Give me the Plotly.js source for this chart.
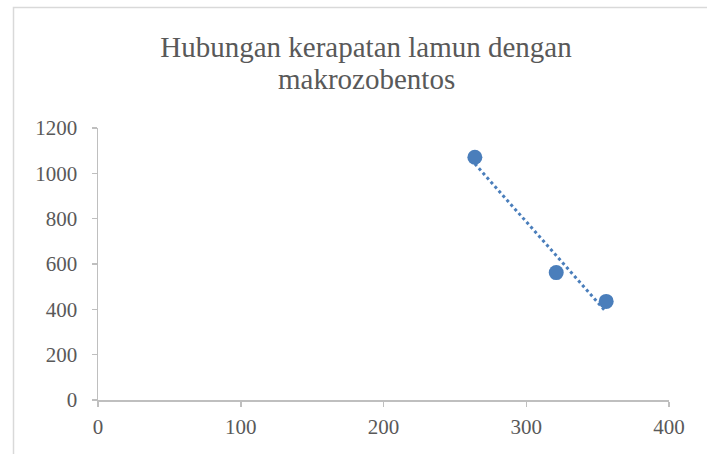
<!DOCTYPE html>
<html>
<head>
<meta charset="utf-8">
<script src="https://cdn.plot.ly/plotly-3.0.1.min.js"></script>
<style>
html,body{margin:0;padding:0;background:#fff;overflow:hidden;}
#chart{width:707px;height:454px;}
</style>
</head>
<body>
<div id="chart"></div>
<script>
// Data
const titleLine1 = "Hubungan kerapatan lamun dengan";
const titleLine2 = "makrozobentos";
const kerapatan = [264, 321, 356];       // x values
const makrozobentos = [1071, 562, 435];  // y values
const xTicks = [0, 100, 200, 300, 400];
const yTicks = [0, 200, 400, 600, 800, 1000, 1200];

// Linear trendline (least squares) from the data
const n = kerapatan.length;
const mx = kerapatan.reduce((a, b) => a + b, 0) / n;
const my = makrozobentos.reduce((a, b) => a + b, 0) / n;
let sxy = 0, sxx = 0;
for (let i = 0; i < n; i++) {
  sxy += (kerapatan[i] - mx) * (makrozobentos[i] - my);
  sxx += (kerapatan[i] - mx) ** 2;
}
const slope = sxy / sxx;
const intercept = my - slope * mx;
const tx = [Math.min(...kerapatan), Math.max(...kerapatan)];
const ty = tx.map(v => intercept + slope * v);

const blue = '#4a7ebb';
const textColor = '#595959';
const font = 'Liberation Serif, Times New Roman, serif';

const data = [
  {
    x: tx, y: ty, type: 'scatter', mode: 'lines',
    line: {color: blue, width: 3, dash: 'dot'},
    hoverinfo: 'skip', showlegend: false
  },
  {
    x: kerapatan, y: makrozobentos, type: 'scatter', mode: 'markers',
    marker: {color: blue, size: 15},
    showlegend: false
  }
];

const W = 707, H = 454;
const L = 98, R = 669, T = 128, B = 400;
const px2paperX = p => (p - L) / (R - L);
const px2paperY = p => (B - p) / (B - T);

const layout = {
  width: W, height: H,
  margin: {l: L, r: W - R, t: T, b: H - B, pad: 0},
  paper_bgcolor: '#ffffff',
  plot_bgcolor: '#ffffff',
  font: {family: font, color: textColor, size: 21},
  title: {
    text: titleLine1,
    font: {family: font, size: 29, color: textColor},
    x: 366 / W, xanchor: 'center', xref: 'container',
    y: 1 - 47 / H, yanchor: 'middle', yref: 'container'
  },
  annotations: [{
    text: titleLine2, showarrow: false,
    xref: 'paper', yref: 'paper',
    x: px2paperX(366), y: px2paperY(79),
    xanchor: 'center', yanchor: 'middle',
    font: {family: font, size: 29, color: textColor}
  }],
  xaxis: {
    range: [0, 400], tickvals: xTicks, ticktext: xTicks.map(String),
    showgrid: false, zeroline: false,
    showline: true, linecolor: '#bfbfbf', linewidth: 1.5,
    ticks: 'outside', ticklen: 5, tickcolor: '#bfbfbf', tickwidth: 1.5,
    ticklabelstandoff: 2,
    tickfont: {family: font, size: 21, color: textColor},
    fixedrange: true
  },
  yaxis: {
    range: [0, 1200], tickvals: yTicks, ticktext: yTicks.map(String),
    showgrid: false, zeroline: false,
    showline: true, linecolor: '#bfbfbf', linewidth: 1.5,
    ticks: 'outside', ticklen: 5, tickcolor: '#bfbfbf', tickwidth: 1.5,
    ticklabelstandoff: 10,
    tickfont: {family: font, size: 21, color: textColor},
    fixedrange: true
  },
  shapes: [{
    type: 'rect', xref: 'paper', yref: 'paper',
    x0: px2paperX(13.5), x1: px2paperX(730),
    y0: px2paperY(470), y1: px2paperY(7.5),
    line: {color: '#d9d9d9', width: 1.5},
    fillcolor: 'rgba(0,0,0,0)', layer: 'below'
  }]
};

Plotly.newPlot('chart', data, layout, {displayModeBar: false, staticPlot: true});
</script>
</body>
</html>
